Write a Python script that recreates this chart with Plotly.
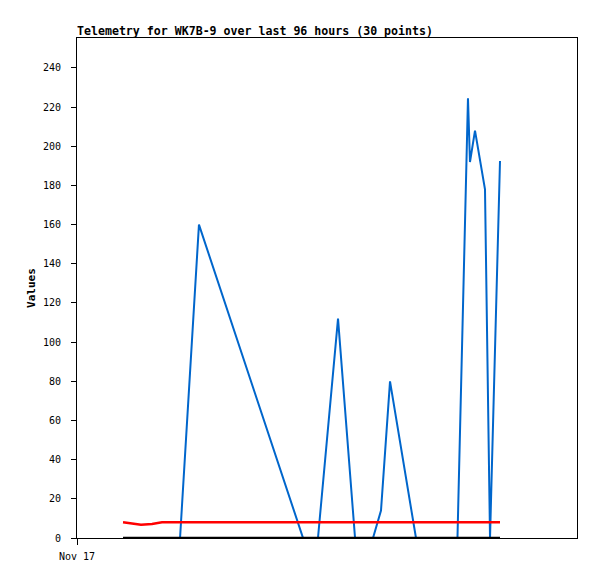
import plotly.graph_objects as go

# ---- data ----
times = [
    "2024-11-17 08:50", "2024-11-17 10:22", "2024-11-17 11:20", "2024-11-17 12:17",
    "2024-11-17 14:24", "2024-11-17 16:19", "2024-11-17 17:51", "2024-11-17 19:47",
    "2024-11-17 23:25", "2024-11-18 19:24", "2024-11-18 20:44", "2024-11-18 22:16",
    "2024-11-19 02:07", "2024-11-19 05:23", "2024-11-19 07:06", "2024-11-19 08:50",
    "2024-11-19 10:22", "2024-11-19 12:06", "2024-11-19 17:05", "2024-11-19 19:47",
    "2024-11-19 21:07", "2024-11-19 22:28", "2024-11-19 23:48", "2024-11-20 01:03",
    "2024-11-20 03:04", "2024-11-20 03:27", "2024-11-20 04:25", "2024-11-20 06:20",
    "2024-11-20 07:18", "2024-11-20 09:13",
]
blue_values = [0, 0, 0, 0, 0, 0, 0, 0, 160, 0, 0, 0, 112, 0, 0, 0, 14, 80, 0, 0,
               0, 0, 0, 0, 224.5, 192, 208, 178, 0, 192.5]
red_values = [8.0, 7.5, 7.3, 6.8, 7.2, 8.0, 8.0, 8.0, 8.0, 8.0, 8.0, 8.0, 8.0, 8.0, 8.0,
              8.0, 8.0, 8.0, 8.0, 8.0, 8.0, 8.0, 8.0, 8.0, 8.0, 8.0, 8.0, 8.0, 8.0, 8.0]
black_values = [0] * 30

x_range = ["2024-11-17 00:00", "2024-11-21 00:00"]
y_range = [0, 255.3]
y_ticks = list(range(0, 241, 20))
x_tickvals = ["2024-11-17 00:00"]
x_ticktext = ["Nov 17"]
title_text = "Telemetry for WK7B-9 over last 96 hours (30 points)"

MONO = "DejaVu Sans Mono"

fig = go.Figure()
fig.add_trace(go.Scatter(x=times, y=blue_values, mode="lines",
                         line=dict(color="#0066CC", width=2), showlegend=False))
fig.add_trace(go.Scatter(x=times, y=red_values, mode="lines",
                         line=dict(color="#FF0000", width=2.5), showlegend=False))
fig.add_trace(go.Scatter(x=times, y=black_values, mode="lines",
                         line=dict(color="#000000", width=2.5), showlegend=False))

# the page body adds an 8px offset, so the figure is sized to compensate
fig.update_layout(
    width=589, height=571,
    margin=dict(l=69, r=20, t=30, b=41, pad=0),
    paper_bgcolor="white", plot_bgcolor="white",
    font=dict(family=MONO, size=10, color="black"),
    showlegend=False,
    annotations=[dict(
        text="<b>" + title_text + "</b>", x=0, y=1, xref="paper", yref="paper",
        xanchor="left", yanchor="bottom", showarrow=False, xshift=-2, yshift=-2,
        font=dict(family=MONO, size=11.6, color="black"))],
)
fig.update_xaxes(
    type="date", range=x_range, tickvals=x_tickvals, ticktext=x_ticktext,
    showgrid=False, zeroline=False, showline=True, linecolor="black", linewidth=1,
    mirror=True, ticks="outside", ticklen=6, tickcolor="black", ticklabelstandoff=3,
    tickfont=dict(family=MONO, size=10, color="black"),
)
fig.update_yaxes(
    range=y_range, tickvals=y_ticks, showgrid=False, zeroline=False,
    showline=True, linecolor="black", linewidth=1, mirror=True,
    ticks="outside", ticklen=5, tickcolor="black", ticklabelstandoff=8,
    tickfont=dict(family=MONO, size=10, color="black"),
    title=dict(text="<b>Values</b>", font=dict(family=MONO, size=11, color="black"), standoff=5),
)

fig.write_html("out.html")
